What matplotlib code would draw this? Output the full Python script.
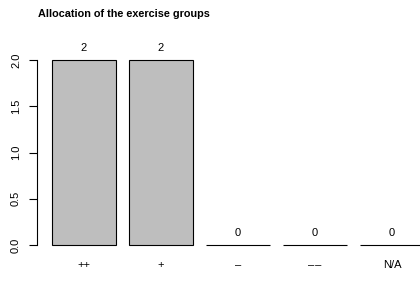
import matplotlib
matplotlib.use('Agg')
import matplotlib.pyplot as plt

categories = ['++', '+', '\u2013', '\u2013\u200a\u2013', 'N/A']
counts = [2, 2, 0, 0, 0]
yticks = [0.0, 0.5, 1.0, 1.5, 2.0]

plt.rcParams['font.family'] = ['Liberation Sans', 'DejaVu Sans']

fig = plt.figure(figsize=(4.2, 2.83), dpi=100)
W, H = 420.0, 283.0
# axes region in pixels (R-like plot region, running past the right edge)
ax = fig.add_axes([37 / W, (H - 252.4) / H, 402 / W, 199.8 / H])

width = 1.0
space = 0.2
xs = [space + i * (width + space) + width / 2 for i in range(len(counts))]
ax.bar(xs, counts, width=width, color='#bebebe', edgecolor='black', linewidth=0.8)

for i, x in enumerate(xs):
    ax.annotate(str(counts[i]), (x, counts[i]), xytext=(0, 5), textcoords='offset points',
                ha='center', va='bottom', fontsize=8)
    ax.annotate(categories[i], (x, 0), xytext=(0, -11), textcoords='offset points',
                ha='center', va='top', fontsize=8, annotation_clip=False)

ax.set_xlim(-0.032, 6.232)
ax.set_ylim(-0.08, 2.08)
for s in ['top', 'right', 'bottom']:
    ax.spines[s].set_visible(False)
ax.spines['left'].set_bounds(0, 2)
ax.spines['left'].set_linewidth(0.8)
ax.set_xticks([])
ax.set_yticks(yticks)
ax.set_yticklabels(['%.1f' % v for v in yticks], rotation=90, va='center', fontsize=8)
ax.tick_params(axis='y', length=6, width=0.8, pad=5.5)

fig.text(38 / W, 1 - 14 / H, 'Allocation of the exercise groups', fontsize=7.8,
         fontweight='bold', ha='left', va='center')

fig.savefig('out.png', dpi=100)
